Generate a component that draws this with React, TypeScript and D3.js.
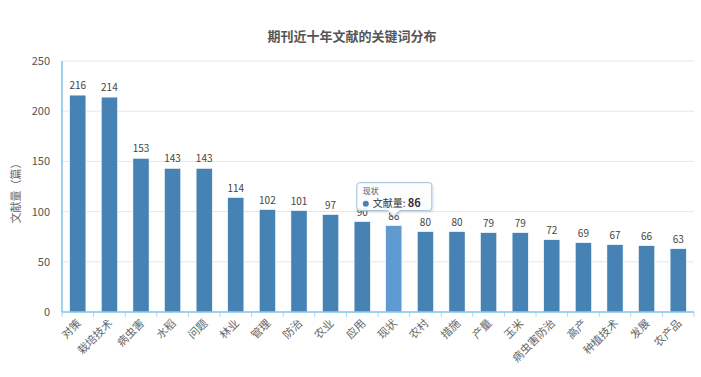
import React from "react";
import * as d3 from "d3";

const categories = ["对策", "栽培技术", "病虫害", "水稻", "问题", "林业", "管理", "防治", "农业", "应用", "现状", "农村", "措施", "产量", "玉米", "病虫害防治", "高产", "种植技术", "发展", "农产品"];
const values = [216, 214, 153, 143, 143, 114, 102, 101, 97, 90, 86, 80, 80, 79, 79, 72, 69, 67, 66, 63];
const yTicks = [0, 50, 100, 150, 200, 250];
const title = "期刊近十年文献的关键词分布";
const yTitle = "文献量（篇）";
const seriesName = "文献量";
const highlight = "现状";

const W = 701, H = 377;
const left = 62, right = 694, top = 61, bottom = 312;
const font = "'Noto Sans CJK SC', 'DejaVu Sans', sans-serif";

export default function App() {
  const x = d3.scaleBand<string>().domain(categories).range([left, right]).paddingInner(0.49).paddingOuter(0.245);
  const step = (right - left) / categories.length;
  const y = d3.scaleLinear().domain([0, 250]).range([bottom, top]);
  const hi = categories.indexOf(highlight);
  const hx = (x(highlight) as number) + x.bandwidth() / 2;
  const hy = y(values[hi]);
  const tw = 75, th = 28;
  const tx = hx - 37, ty = hy - 43;
  return (
    <svg width={W} height={H} style={{ position: "absolute", left: 0, top: 0, background: "#fff" }} fontFamily={font}>
      <defs>
        <filter id="sh" x="-20%" y="-20%" width="140%" height="160%">
          <feDropShadow dx="1" dy="1" stdDeviation="1" floodColor="#000" floodOpacity="0.15" />
        </filter>
      </defs>
      <text x={352} y={41} textAnchor="middle" fontSize={13} fontWeight="bold" fill="#555">{title}</text>
      {yTicks.map((t) => (
        <g key={t}>
          {t > 0 && <line x1={left} x2={right} y1={y(t)} y2={y(t)} stroke="#e6e6e6" strokeWidth={1} />}
          <text x={50} y={y(t) + 4} textAnchor="end" fontSize={11} fill="#555">{t}</text>
        </g>
      ))}
      <text transform={`translate(20,${(top + bottom) / 2 + 4}) rotate(-90)`} textAnchor="middle" fontSize={11} fill="#666">{yTitle}</text>
      {categories.map((c, i) => {
        const bx = x(c) as number;
        return (
          <g key={c}>
            <rect x={bx} y={y(values[i])} width={x.bandwidth()} height={bottom - y(values[i])} fill={c === highlight ? "#5f9bd0" : "#4682b4"} stroke="#ffffff" strokeWidth={0.5} />
            <text x={bx + x.bandwidth() / 2} y={y(values[i]) - 6} textAnchor="middle" fontSize={10} fill="#444">{values[i]}</text>
          </g>
        );
      })}
      {d3.range(categories.length + 1).map((i) => (
        <line key={i} x1={left + i * step} x2={left + i * step} y1={bottom} y2={bottom + 5} stroke="#c0d0e0" />
      ))}
      <line x1={left} x2={left} y1={top} y2={bottom} stroke="#7ec4e8" strokeWidth={1.5} />
      <line x1={left} x2={right} y1={bottom} y2={bottom} stroke="#7ec4e8" strokeWidth={1.5} />
      {categories.map((c) => {
        const cx = (x(c) as number) + x.bandwidth() / 2;
        return (
          <text key={c} transform={`translate(${cx + 4},${bottom + 12}) rotate(-45)`} textAnchor="end" fontSize={11} fill="#666">{c}</text>
        );
      })}
      <g>
        <path filter="url(#sh)" d={`M${tx},${ty + 3} Q${tx},${ty} ${tx + 3},${ty} L${tx + tw - 3},${ty} Q${tx + tw},${ty} ${tx + tw},${ty + 3} L${tx + tw},${ty + th - 3} Q${tx + tw},${ty + th} ${tx + tw - 3},${ty + th} L${hx + 6},${ty + th} L${hx},${ty + th + 6} L${hx - 6},${ty + th} L${tx + 3},${ty + th} Q${tx},${ty + th} ${tx},${ty + th - 3} Z`}
          fill="rgba(255,255,255,0.88)" stroke="#9fbfdc" strokeWidth={1} />
        <text x={tx + 6} y={ty + 11} fontSize={8} fill="#555">{highlight}</text>
        <circle cx={tx + 9} cy={ty + 21} r={3} fill="#4682b4" />
        <text x={tx + 16} y={ty + 24.5} fontSize={10} fill="#333">{seriesName}: <tspan fontWeight="bold" fontSize={11}>{values[hi]}</tspan></text>
      </g>
    </svg>
  );
}
